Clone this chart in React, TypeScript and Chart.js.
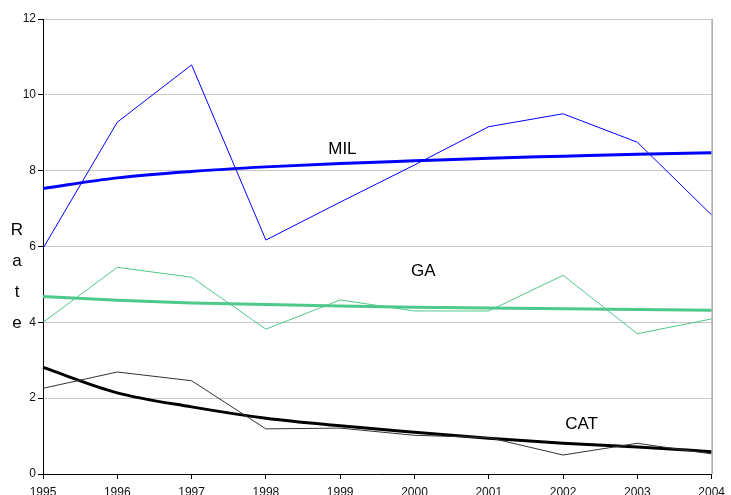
import React, { useEffect, useRef } from "react";
import { Chart, registerables } from "chart.js";

Chart.register(...registerables);

const years = ["1995", "1996", "1997", "1998", "1999", "2000", "2001", "2002", "2003", "2004"];
const milRate = [5.95, 9.28, 10.79, 6.17, 7.17, 8.15, 9.16, 9.5, 8.75, 6.83];
const milTrend = [7.53, 7.81, 7.98, 8.1, 8.19, 8.26, 8.33, 8.38, 8.43, 8.47];
const gaRate = [4.0, 5.45, 5.19, 3.82, 4.59, 4.3, 4.3, 5.24, 3.7, 4.09];
const gaTrend = [4.68, 4.58, 4.51, 4.47, 4.43, 4.4, 4.38, 4.36, 4.34, 4.32];
const catRate = [2.26, 2.69, 2.46, 1.19, 1.21, 1.02, 0.96, 0.5, 0.81, 0.53];
const catTrend = [2.81, 2.14, 1.77, 1.47, 1.27, 1.1, 0.94, 0.81, 0.71, 0.59];
const yTicks = [0, 2, 4, 6, 8, 10, 12];
const seriesLabels = ["MIL", "GA", "CAT"];
const axisTitle = ["R", "a", "t", "e"];

const FONT = "'Liberation Sans', Arial, sans-serif";
const BLUE = "#0000FF";
const GREEN = "#4FC88B";

const overlayPlugin = {
  id: "overlay",
  afterDraw(chart: any) {
    const { ctx, chartArea, scales } = chart;
    const xs = scales.x;
    const ys = scales.y;
    ctx.save();
    // right border
    ctx.strokeStyle = "#a8a8a8";
    ctx.lineWidth = 1.5;
    ctx.beginPath();
    ctx.moveTo(chartArea.right + 0.5, chartArea.top);
    ctx.lineTo(chartArea.right + 0.5, chartArea.bottom);
    ctx.stroke();
    // series labels
    ctx.fillStyle = "#000";
    ctx.font = `17px ${FONT}`;
    ctx.textAlign = "center";
    ctx.textBaseline = "middle";
    const labelPos: [number, number][] = [
      [4.03, 8.57],
      [5.12, 5.34],
      [7.25, 1.32],
    ];
    seriesLabels.forEach((t, i) => {
      const [xi, yv] = labelPos[i];
      const x0 = xs.getPixelForValue(Math.floor(xi));
      const x1 = xs.getPixelForValue(Math.ceil(xi));
      const px = x0 + (x1 - x0) * (xi - Math.floor(xi));
      ctx.fillText(t, px, ys.getPixelForValue(yv));
    });
    // y axis title stacked
    ctx.font = `17px ${FONT}`;
    axisTitle.forEach((c, i) => {
      ctx.fillText(c, 17, 230 + i * 31);
    });
    ctx.restore();
  },
};

export default function App() {
  const ref = useRef<HTMLCanvasElement | null>(null);
  useEffect(() => {
    document.body.style.margin = "0";
    const canvas = ref.current!;
    const thin = (label: string, data: number[], color: string) => ({
      label,
      data,
      borderColor: color,
      borderWidth: 1,
      pointRadius: 0,
      fill: false,
      tension: 0,
    });
    const thick = (label: string, data: number[], color: string) => ({
      label,
      data,
      borderColor: color,
      borderWidth: 3,
      pointRadius: 0,
      fill: false,
      cubicInterpolationMode: "monotone" as const,
    });
    const chart = new Chart(canvas, {
      type: "line",
      data: {
        labels: years,
        datasets: [
          thin("MIL", milRate, BLUE),
          thin("GA", gaRate, GREEN),
          thin("CAT", catRate, "#333333"),
          thick("MIL trend", milTrend, BLUE),
          thick("GA trend", gaTrend, GREEN),
          thick("CAT trend", catTrend, "#000000"),
        ],
      },
      options: {
        responsive: false,
        animation: false,
        layout: { padding: { top: 19, right: 19, left: 0, bottom: 0 } },
        plugins: { legend: { display: false }, tooltip: { enabled: false } },
        scales: {
          x: {
            type: "category",
            offset: false,
            grid: {
              drawOnChartArea: false,
              drawTicks: true,
              tickLength: 5,
              tickColor: "#000",
            },
            border: { color: "#000", width: 1 },
            ticks: {
              color: "#111",
              font: { family: FONT, size: 12 },
              padding: 6,
              maxRotation: 0,
              autoSkip: false,
            },
            afterFit: (s: any) => {
              s.height = 21;
            },
          },
          y: {
            min: 0,
            max: 12,
            afterBuildTicks: (s: any) => {
              s.ticks = yTicks.map((v) => ({ value: v }));
            },
            grid: {
              color: "#c8c8c8",
              tickColor: "#000",
              tickLength: 5,
            },
            border: { color: "#000", width: 1 },
            ticks: {
              color: "#111",
              font: { family: FONT, size: 12 },
              padding: 2,
            },
            afterFit: (s: any) => {
              s.width = 43;
            },
          },
        },
      },
      plugins: [overlayPlugin],
    });
    return () => chart.destroy();
  }, []);
  return (
    <div style={{ position: "absolute", left: 0, top: 0, width: 731, height: 495 }}>
      <canvas ref={ref} width={731} height={495} />
    </div>
  );
}
